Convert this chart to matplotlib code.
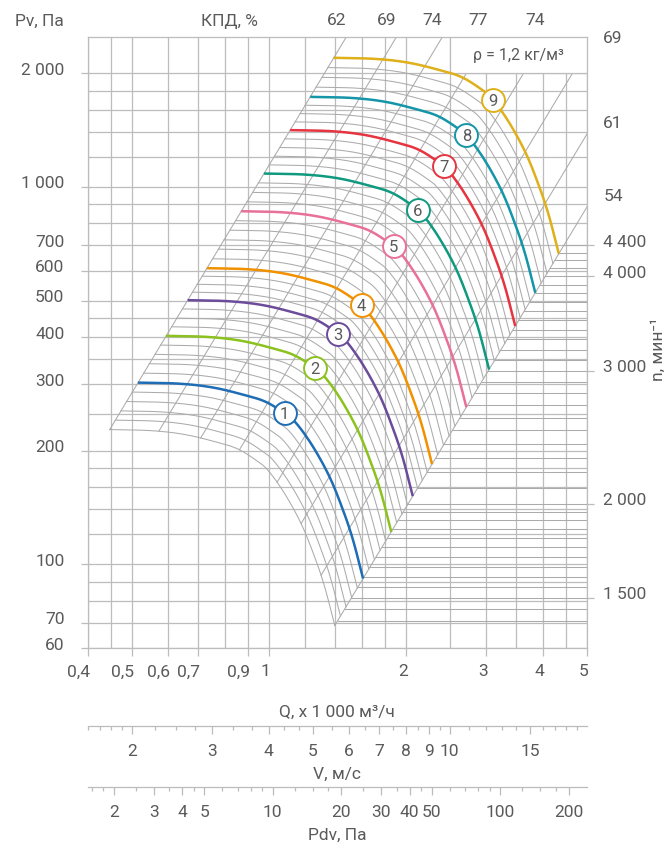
import numpy as np
import matplotlib.pyplot as plt
import matplotlib.transforms as mtransforms
from matplotlib.patches import Rectangle
from matplotlib.ticker import NullLocator

plt.rcParams['font.family'] = ['Roboto', 'DejaVu Sans']

# ---------------- data ----------------
# shape of curve 1 (Q in 1000 m3/h, Pv in Pa)
base_q = [0.516, 0.637, 0.755, 0.893, 0.988, 1.084, 1.151, 1.251, 1.362, 1.457, 1.532, 1.612]
base_p = [303, 301, 294, 280, 269, 251, 236, 205, 170, 139, 116, 91.7]

# numbered curves: pressure at the left end, colour, position of the number
curve_names = ['1', '2', '3', '4', '5', '6', '7', '8', '9']
curve_p0 = [303, 403, 501, 609, 862, 1085, 1414, 1732, 2198]
curve_colors = ['#1f6db4', '#8cc21f', '#6b4c9a', '#f29100', '#e8709a',
                '#0f9a7f', '#e63440', '#1496a8', '#dfb01a']
label_q = [1.084, 1.262, 1.420, 1.601, 1.883, 2.129, 2.425, 2.72, 3.112]

# grey speed curves of the mesh (pressure at the left end)
mesh_p0 = [227.5, 241, 255, 270, 286, 303, 321, 340, 360, 381, 403, 426, 449,
           475, 501, 526, 552, 580, 609, 645, 684, 724, 768, 814, 862, 913, 967,
           1025, 1085, 1144, 1206, 1272, 1341, 1414, 1487, 1564, 1646, 1732,
           1838, 1951, 2071, 2198]

# efficiency lines (КПД, %) and where they leave the frame
eff_top = ['62', '69', '74', '77', '74']
eff_top_q = [1.48, 1.91, 2.41, 3.04, 4.06]      # Q at the top edge
eff_right = ['69', '61', '54']
eff_right_p = [2310, 1377, 882]                 # Pv at the right edge

# speed scale n, min^-1
rpm_lines = [1400, 1450, 1500, 1550, 1600, 1650, 1700, 1750, 1800, 1850, 1900,
             1950, 2000, 2100, 2200, 2300, 2400, 2500, 2600, 2700, 2800, 2900,
             3000, 3100, 3200, 3300, 3400, 3500, 3600, 3700, 3800, 3900, 4000,
             4100, 4200, 4300, 4400]
rpm_ticks = [1500, 2000, 3000, 4000, 4400]
rpm_tick_labels = ['1 500', '2 000', '3 000', '4 000', '4 400']
rpm_k = 3.62e-5

q_ticks = [0.4, 0.5, 0.6, 0.7, 0.9, 1, 2, 3, 4, 5]
q_tick_labels = ['0,4', '0,5', '0,6', '0,7', '0,9', '1', '2', '3', '4', '5']
q_grid = [0.4, 0.45, 0.5, 0.6, 0.7, 0.8, 0.9, 1, 1.2, 1.4, 1.6, 1.8, 2, 2.5,
          3, 3.5, 4, 4.5, 5]
p_ticks = [60, 70, 100, 200, 300, 400, 500, 600, 700, 1000, 2000]
p_tick_labels = ['60', '70', '100', '200', '300', '400', '500', '600', '700',
                 '1 000', '2 000']
p_grid = [60, 70, 80, 90, 100, 120, 140, 160, 180, 200, 250, 300, 350, 400, 450,
          500, 600, 700, 800, 900, 1000, 1200, 1400, 1600, 1800, 2000]

v_per_q = 4.0
v_ticks = [2, 3, 4, 5, 6, 7, 8, 9, 10, 15]
v_minor = [1.6, 1.7, 1.8, 1.9, 2.25, 2.5, 2.75, 3.33, 3.67, 4.33, 4.67, 5.5,
           6.5, 7.5, 8.5, 9.5, 11, 12, 13, 14, 16, 17, 18, 19]
pdv_per_v2 = 0.6
pdv_ticks = [2, 3, 4, 5, 10, 20, 30, 40, 50, 100, 200]
pdv_minor = [1.6, 1.8, 2.5, 3.5, 4.5, 6, 7, 8, 9, 12.5, 15, 17.5, 25, 35, 45,
             60, 70, 80, 90, 125, 150, 175]

TXT = '#5a5a5a'
GRID = '#bcbcbc'
MESH = '#ababab'
FS = 12.5


def smooth(x, y, n=20):
    # Catmull-Rom curve through the read points
    x = np.asarray(x, float)
    y = np.asarray(y, float)
    px = np.concatenate([[2 * x[0] - x[1]], x, [2 * x[-1] - x[-2]]])
    py = np.concatenate([[2 * y[0] - y[1]], y, [2 * y[-1] - y[-2]]])
    t = np.linspace(0, 1, n, endpoint=False)
    ox, oy = [], []
    for i in range(1, len(px) - 2):
        for arr, out in ((px, ox), (py, oy)):
            a, b, c, d = arr[i - 1:i + 3]
            out.append(0.5 * (2 * b + (c - a) * t + (2 * a - 5 * b + 4 * c - d) * t ** 2
                              + (3 * b - a - 3 * c + d) * t ** 3))
    ox.append([x[-1]])
    oy.append([y[-1]])
    return np.concatenate(ox), np.concatenate(oy)


lq, lp = smooth(np.log10(base_q), np.log10(base_p))
c_d = lp - 2 * lq


def fan_curve(p0):
    s = p0 / base_p[0]
    return 10 ** lq * np.sqrt(s), 10 ** lp * s


fig = plt.figure(figsize=(6.68, 8.48), dpi=100)
ax = fig.add_axes([0.1313, 0.2358, 0.7470, 0.7209])
ax.set_xscale('log')
ax.set_yscale('log')
ax.set_xlim(0.4, 5)
ax.set_ylim(60, 2500)

# rectangular grid
ax.vlines(q_grid, 60, 2500, color=GRID, lw=0.9, zorder=1)
ax.hlines(p_grid, 0.4, 5, color=GRID, lw=0.9, zorder=1)

# grey speed curves
for p0 in mesh_p0:
    q, p = fan_curve(p0)
    ax.plot(q, p, color=MESH, lw=0.75, zorder=2)

# efficiency lines start on the lowest curve and run with slope 2
s_low = mesh_p0[0] / base_p[0]
eff_c = [np.log10(2500) - 2 * np.log10(v) for v in eff_top_q] + \
        [np.log10(v) - 2 * np.log10(5) for v in eff_right_p]
for C in eff_c:
    q0 = 10 ** np.interp(C, c_d[::-1], lq[::-1]) * np.sqrt(s_low)
    p0 = 10 ** np.interp(C, c_d[::-1], lp[::-1]) * s_low
    ax.plot([q0, q0 * 10], [p0, p0 * 100], color=MESH, lw=0.75, zorder=2)

# speed lines to the right of the end line
c_end = eff_c[-1]
for n in rpm_lines:
    pr = rpm_k * n ** 2
    ax.plot([np.sqrt(pr / 10 ** c_end), 5], [pr, pr], color=MESH, lw=0.75, zorder=2)

# density box
ax.add_patch(Rectangle((2.5, 2000), 2.5, 500, facecolor='white', edgecolor=GRID,
                       lw=0.9, zorder=3))
ax.text(np.sqrt(2.5 * 5), np.sqrt(2000 * 2500), 'ρ = 1,2 кг/м³', fontsize=11.5,
        color=TXT, ha='center', va='center', zorder=6)

# numbered curves
for name, p0, col, ql in zip(curve_names, curve_p0, curve_colors, label_q):
    q, p = fan_curve(p0)
    ax.plot(q, p, color=col, lw=1.8, zorder=4, solid_capstyle='butt')
    pl = 10 ** np.interp(np.log10(ql), np.log10(q), np.log10(p))
    ax.plot(ql, pl, 'o', ms=16.5, mfc='white', mec=col, mew=1.4, zorder=5)
    ax.text(ql, pl, name, fontsize=12, color=TXT, ha='center', va='center_baseline',
            zorder=6)

# axes styling
for sp in ax.spines.values():
    sp.set_color(GRID)
    sp.set_linewidth(0.9)
ax.xaxis.set_minor_locator(NullLocator())
ax.yaxis.set_minor_locator(NullLocator())
ax.set_xticks(q_ticks)
ax.set_xticklabels(q_tick_labels, ha='right')
ax.set_yticks(p_ticks)
ax.set_yticklabels(p_tick_labels)
ax.tick_params(axis='x', length=5.8, width=0.9, color=GRID, pad=6,
               labelsize=FS, labelcolor=TXT)
ax.tick_params(axis='y', length=4.8, width=0.9, color=GRID, pad=12,
               labelsize=FS, labelcolor=TXT)
up = mtransforms.ScaledTranslation(0, 0.045, fig.dpi_scale_trans)
for lab in ax.get_xticklabels():
    lab.set_transform(lab.get_transform() + mtransforms.ScaledTranslation(0.02, 0, fig.dpi_scale_trans))
for lab in ax.get_yticklabels():
    lab.set_transform(lab.get_transform() + up)

ax.text(-0.0475, 1.0245, 'Pv, Па', transform=ax.transAxes, fontsize=FS,
        color=TXT, ha='right', va='center')
ax.text(0.285, 1.0245, 'КПД, %', transform=ax.transAxes, fontsize=FS,
        color=TXT, ha='center', va='center')
ax.text(0.5, -0.1047, 'Q, x 1 000 м³/ч', transform=ax.transAxes, fontsize=FS,
        color=TXT, ha='center', va='center')

for lab, qe in zip(eff_top, eff_top_q):
    ax.annotate(lab, xy=(qe, 1.0), xycoords=('data', 'axes fraction'),
                xytext=(-7.2, 11.5), textcoords='offset points', fontsize=FS,
                color=TXT, ha='center', va='center')
for lab, pe in zip(eff_right, eff_right_p):
    ax.annotate(lab, xy=(1.0, pe), xycoords=('axes fraction', 'data'),
                xytext=(12, 8), textcoords='offset points', fontsize=FS,
                color=TXT, ha='left', va='center')

# speed scale on the right
ax_n = ax.twinx()
ax_n.set_yscale('log')
ax_n.set_ylim(60, 2500)
ax_n.yaxis.set_minor_locator(NullLocator())
ax_n.set_yticks([rpm_k * n ** 2 for n in rpm_ticks])
ax_n.set_yticklabels(rpm_tick_labels)
ax_n.tick_params(axis='y', length=4.8, width=0.9, color=GRID, pad=7,
                 labelsize=FS, labelcolor=TXT)
for lab in ax_n.get_yticklabels():
    lab.set_transform(lab.get_transform() + up)
for sp in ax_n.spines.values():
    sp.set_visible(False)
fig.text(0.985, 0.588, 'n, мин⁻¹', rotation=90, fontsize=FS, color=TXT,
         ha='center', va='center')

# V and Pdv scales under the chart
def scale_axis(bottom, lims, major, minor, title):
    a = fig.add_axes([0.1313, bottom, 0.7470, 0.0001])
    a.set_xscale('log')
    a.set_xlim(*lims)
    a.set_facecolor('none')
    a.set_yticks([])
    for k in ('left', 'right', 'top'):
        a.spines[k].set_visible(False)
    a.spines['bottom'].set_color(GRID)
    a.spines['bottom'].set_linewidth(0.9)
    a.set_xticks(major)
    a.set_xticklabels([str(v) for v in major])
    a.set_xticks(minor, minor=True)
    a.set_xticklabels([], minor=True)
    a.tick_params(axis='x', which='major', length=5.5, width=0.9, color=GRID,
                  pad=7.5, labelsize=FS, labelcolor=TXT)
    a.tick_params(axis='x', which='minor', length=2.8, width=0.9, color=GRID)
    a.annotate(title, xy=(0.5, 0), xycoords='axes fraction', xytext=(0, -35),
               textcoords='offset points', fontsize=FS, color=TXT,
               ha='center', va='center')
    return a


vlim = (0.4 * v_per_q, 5 * v_per_q)
scale_axis(0.1439, vlim, v_ticks, v_minor, 'V, м/с')
scale_axis(0.0719, (pdv_per_v2 * vlim[0] ** 2, pdv_per_v2 * vlim[1] ** 2),
           pdv_ticks, pdv_minor, 'Pdv, Па')

fig.savefig('out.png', dpi=100)
